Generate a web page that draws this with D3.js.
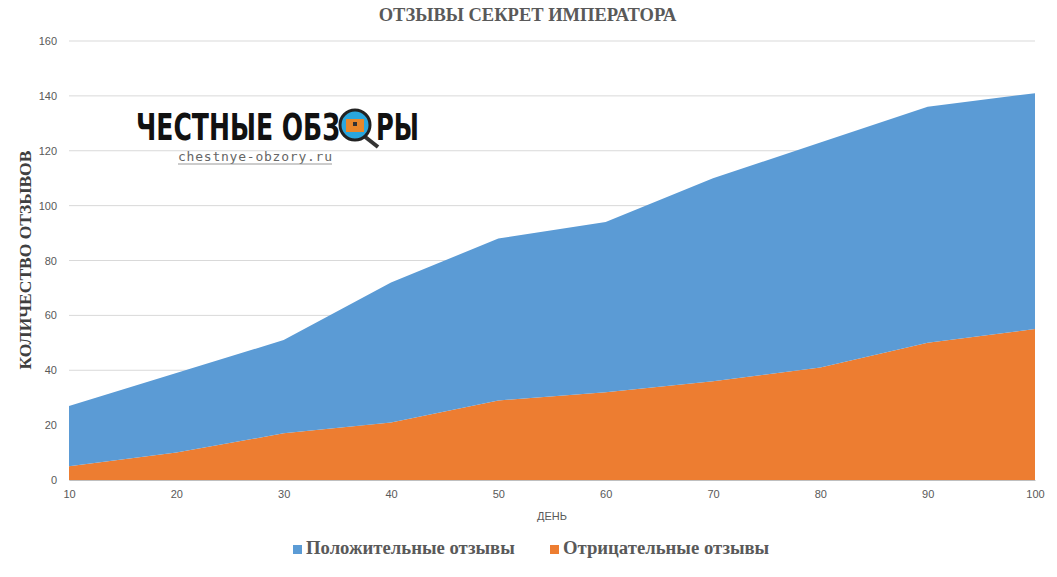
<html>
<head>
<meta charset="utf-8">
<style>
  body { margin: 0; background: #fff; }
  svg { font-family: "Liberation Serif", serif; }
  .grid line { stroke: #d9d9d9; }
  .axis text { font-family: "Liberation Sans", sans-serif; font-size: 11px; fill: #595959; }
  .axis path, .axis line { stroke: #bfbfbf; }
</style>
</head>
<body>
<script src="https://d3js.org/d3.v7.min.js"></script>
<script>
var days = [10, 20, 30, 40, 50, 60, 70, 80, 90, 100];
var negative = [5, 10, 17, 21, 29, 32, 36, 41, 50, 55];
var positive = [22, 29, 34, 51, 59, 62, 74, 82, 86, 86];
var yTicks = [0, 20, 40, 60, 80, 100, 120, 140, 160];

var W = 1057, H = 577;
var margin = {top: 41, right: 22, bottom: 97, left: 69};
var width = W - margin.left - margin.right,
    height = H - margin.top - margin.bottom;

var svg = d3.select("body").append("svg").attr("width", W).attr("height", H);
var g = svg.append("g").attr("transform", "translate(" + margin.left + "," + margin.top + ")");

var x = d3.scaleLinear().domain([10, 100]).range([0, width]);
var y = d3.scaleLinear().domain([0, 160]).range([height, 0]);

// gridlines
g.append("g").attr("class", "grid").selectAll("line").data(yTicks).join("line")
  .attr("x1", 0).attr("x2", width).attr("y1", d => y(d)).attr("y2", d => y(d));

var rows = days.map((d, i) => ({day: d, neg: negative[i], pos: positive[i]}));
var stack = d3.stack().keys(["neg", "pos"])(rows);
var colors = {neg: "#ed7d31", pos: "#5b9bd5"};

var area = d3.area()
  .x(d => x(d.data.day))
  .y0(d => y(d[0]))
  .y1(d => y(d[1]));

g.selectAll(".layer").data(stack).join("path")
  .attr("fill", d => colors[d.key])
  .attr("d", area);

// axes
var xa = g.append("g").attr("class", "axis").attr("transform", "translate(0," + height + ")")
  .call(d3.axisBottom(x).tickValues(days).tickSize(0).tickPadding(10));
xa.select(".domain").attr("stroke", "#bfbfbf");

var ya = g.append("g").attr("class", "axis")
  .call(d3.axisLeft(y).tickValues(yTicks).tickSize(0).tickPadding(12));
ya.select(".domain").remove();

// titles
svg.append("text").attr("x", W / 2 - 1).attr("y", 21).attr("text-anchor", "middle")
  .attr("font-size", 18.5).attr("font-weight", "bold").attr("fill", "#595959")
  .text("ОТЗЫВЫ СЕКРЕТ ИМПЕРАТОРА");
svg.append("text").attr("x", 552).attr("y", 520).attr("text-anchor", "middle")
  .attr("font-family", "Liberation Sans, sans-serif").attr("font-size", 11).attr("fill", "#595959")
  .text("ДЕНЬ");
svg.append("text").attr("transform", "translate(31,260)rotate(-90)").attr("text-anchor", "middle")
  .attr("font-size", 17.5).attr("font-weight", "bold").attr("fill", "#404040")
  .text("КОЛИЧЕСТВО ОТЗЫВОВ");

// legend
var legend = [{label: "Положительные отзывы", key: "pos", x: 293},
              {label: "Отрицательные отзывы", key: "neg", x: 550}];
var lg = svg.selectAll(".lg").data(legend).join("g").attr("transform", d => "translate(" + d.x + ",553)");
lg.append("rect").attr("width", 9).attr("height", 9).attr("y", -8).attr("fill", d => colors[d.key]);
lg.append("text").attr("x", 13).attr("y", 1).attr("font-size", 18.7).attr("font-weight", "bold")
  .attr("fill", "#595959").text(d => d.label);

// watermark logo (condensed letters stretched vertically)
var logo = svg.append("g");
logo.append("text").attr("transform", "translate(136,140) scale(1,1.25)")
  .attr("font-family", "DejaVu Sans Condensed, sans-serif").attr("font-weight", "bold")
  .attr("font-size", 30).attr("textLength", 204).attr("lengthAdjust", "spacingAndGlyphs")
  .attr("fill", "#111").text("ЧЕСТНЫЕ ОБЗ");
logo.append("line").attr("x1", 364).attr("y1", 136).attr("x2", 378).attr("y2", 147)
  .attr("stroke", "#333").attr("stroke-width", 4);
logo.append("circle").attr("cx", 355).attr("cy", 125).attr("r", 15)
  .attr("fill", "#2aa6dd").attr("stroke", "#222").attr("stroke-width", 3);
logo.append("rect").attr("x", 346).attr("y", 119).attr("width", 18).attr("height", 13).attr("fill", "#e7872b");
logo.append("rect").attr("x", 353).attr("y", 122).attr("width", 4).attr("height", 4).attr("fill", "#333");
logo.append("text").attr("transform", "translate(376,140) scale(1,1.25)")
  .attr("font-family", "DejaVu Sans Condensed, sans-serif").attr("font-weight", "bold")
  .attr("font-size", 30).attr("textLength", 43).attr("lengthAdjust", "spacingAndGlyphs")
  .attr("fill", "#111").text("РЫ");
logo.append("text").attr("x", 178).attr("y", 161)
  .attr("font-family", "DejaVu Sans Mono, monospace").attr("font-size", 13)
  .attr("textLength", 154).attr("fill", "#666").text("chestnye-obzory.ru");
logo.append("line").attr("x1", 178).attr("x2", 332).attr("y1", 164).attr("y2", 164).attr("stroke", "#999");
</script>
</body>
</html>
